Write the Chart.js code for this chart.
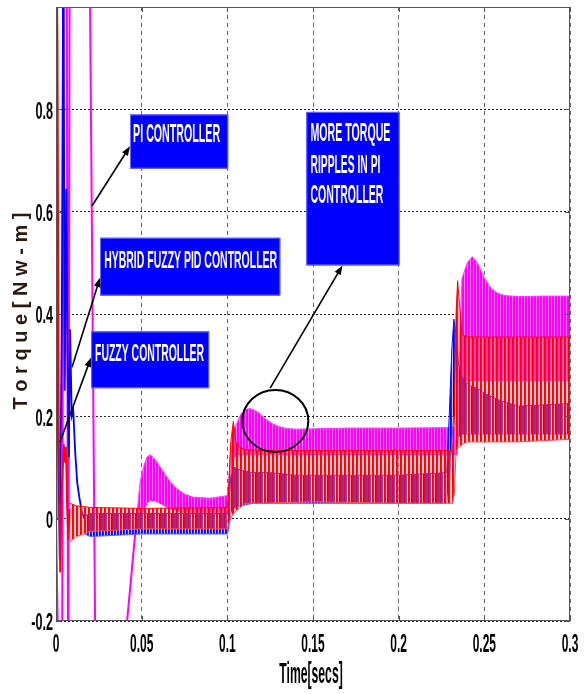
<!DOCTYPE html>
<html>
<head>
<meta charset="utf-8">
<script src="https://cdn.jsdelivr.net/npm/chart.js@4.4.0/dist/chart.umd.min.js"></script>
<style>
  html, body { margin: 0; padding: 0; background: #fff; }
  #wrap { width: 587px; height: 694px; }
</style>
</head>
<body>
<div id="wrap"><canvas id="couple"></canvas></div>
<script>
// axes
const xTicks = [0, 0.05, 0.1, 0.15, 0.2, 0.25, 0.3];
const yTicks = [-0.2, 0, 0.2, 0.4, 0.6, 0.8];

// PI controller (magenta) : demarrage puis enveloppe des ondulations
const piStartT = [0, 0.0012, 0.0034, 0.0046, 0.0062, 0.0071, 0.0081, 0.012, 0.0175, 0.0199, 0.0228, 0.027, 0.035, 0.0415, 0.0473];
const piStartV = [0, -0.25, -0.6, 1.3, 1.25, -0.45, 1.3, 1.8, 1.6, 1.0, -0.2, -0.7, -0.8, -0.2, 0.01];
const piBandT = [0.0473, 0.049, 0.051, 0.053, 0.055, 0.058, 0.062, 0.066, 0.07, 0.075, 0.08, 0.09, 0.1, 0.1008, 0.102, 0.104, 0.106, 0.108, 0.111, 0.114, 0.118, 0.122, 0.126, 0.13, 0.135, 0.14, 0.17, 0.2, 0.234, 0.2355, 0.237, 0.24, 0.243, 0.246, 0.25, 0.254, 0.258, 0.262, 0.27, 0.285, 0.3];
const piBandHaut = [0.01, 0.07, 0.10, 0.12, 0.125, 0.115, 0.095, 0.075, 0.06, 0.048, 0.042, 0.04, 0.045, 0.07, 0.14, 0.175, 0.19, 0.205, 0.214, 0.215, 0.208, 0.196, 0.186, 0.18, 0.176, 0.175, 0.177, 0.177, 0.178, 0.35, 0.47, 0.50, 0.512, 0.50, 0.47, 0.45, 0.44, 0.436, 0.434, 0.435, 0.435];
const piBandBas = [-0.01, 0.0, 0.015, 0.03, 0.036, 0.035, 0.028, 0.02, 0.016, 0.012, 0.01, 0.01, 0.01, 0.02, 0.08, 0.12, 0.125, 0.125, 0.125, 0.125, 0.125, 0.125, 0.125, 0.125, 0.125, 0.125, 0.125, 0.125, 0.125, 0.2, 0.26, 0.27, 0.27, 0.27, 0.27, 0.27, 0.27, 0.27, 0.27, 0.27, 0.27];

// Hybrid fuzzy PID (red)
const hyStartT = [0, 0.0004, 0.0009, 0.0016, 0.0024, 0.0034, 0.0046, 0.0052, 0.0058, 0.0065, 0.0072, 0.008];
const hyStartV = [0, 1.1, 0.93, 0.2, -0.105, 0.06, 0.145, 0.11, 0.14, 0.02, -0.04, 0.02];
const hyBandT = [0.008, 0.012, 0.02, 0.05, 0.1, 0.1008, 0.102, 0.1035, 0.105, 0.107, 0.11, 0.12, 0.15, 0.2, 0.2315, 0.2325, 0.2335, 0.2344, 0.2355, 0.237, 0.24, 0.25, 0.27, 0.3];
const hyBandHaut = [0.03, 0.025, 0.022, 0.02, 0.022, 0.06, 0.15, 0.19, 0.15, 0.14, 0.135, 0.133, 0.133, 0.133, 0.133, 0.2, 0.4, 0.465, 0.42, 0.36, 0.355, 0.355, 0.355, 0.355];
const hyBandBas = [-0.045, -0.035, -0.025, -0.02, -0.02, -0.01, 0.0, 0.01, 0.015, 0.02, 0.03, 0.03, 0.033, 0.03, 0.03, 0.05, 0.13, 0.14, 0.14, 0.145, 0.15, 0.15, 0.15, 0.155];

// Fuzzy controller (blue)
const fzStartT = [0, 0.0006, 0.0013, 0.0022, 0.0034, 0.0043, 0.0051, 0.006, 0.0068, 0.0075, 0.0082, 0.0092, 0.0101, 0.0112, 0.0124, 0.0137, 0.015, 0.0165];
const fzStartV = [0, 0.675, 0.15, -0.08, 0.4, 1.2, 0.25, 0.645, 0.3, 0.12, 0.37, 0.2, 0.21, 0.13, 0.07, 0.04, 0.015, 0.0];
const fzBandT = [0.0165, 0.02, 0.05, 0.1, 0.1008, 0.102, 0.104, 0.108, 0.115, 0.125, 0.14, 0.16, 0.2, 0.228, 0.2295, 0.231, 0.2322, 0.2335, 0.235, 0.238, 0.242, 0.246, 0.25, 0.26, 0.27, 0.3];
const fzBandHaut = [0.005, 0.01, 0.01, 0.01, 0.03, 0.08, 0.1, 0.095, 0.09, 0.09, 0.085, 0.085, 0.085, 0.09, 0.2, 0.33, 0.39, 0.36, 0.3, 0.27, 0.26, 0.255, 0.245, 0.23, 0.22, 0.225];
const fzBandBas = [-0.03, -0.035, -0.03, -0.03, -0.02, 0.01, 0.02, 0.025, 0.03, 0.03, 0.03, 0.03, 0.03, 0.03, 0.06, 0.15, 0.2, 0.18, 0.16, 0.165, 0.165, 0.165, 0.165, 0.165, 0.165, 0.165];

// annotations (data units)
const boites = [
    { t0: 0.0432, t1: 0.1005, v0: 0.79, v1: 0.684, lignes: ['PI CONTROLLER'], tx: 0.045, ty: [0.752], w: [87], size: 26 },
    { t0: 0.0257, t1: 0.1309, v0: 0.549, v1: 0.436, lignes: ['HYBRID FUZZY PID CONTROLLER'], tx: 0.0281, ty: [0.504], w: [173], size: 23 },
    { t0: 0.0205, t1: 0.0894, v0: 0.366, v1: 0.255, lignes: ['FUZZY CONTROLLER'], tx: 0.0228, ty: [0.323], w: [109], size: 23 },
    { t0: 0.1461, t1: 0.2005, v0: 0.795, v1: 0.495, lignes: ['MORE TORQUE', 'RIPPLES IN PI', 'CONTROLLER'], tx: 0.1485, ty: [0.754, 0.691, 0.633], w: [80, 70, 73], size: 25 }
];
const fleches = [
    [0.021, 0.611, 0.0432, 0.728],
    [0.00935, 0.296, 0.0257, 0.471],
    [0.00234, 0.15, 0.0205, 0.315],
    [0.125, 0.255, 0.1672, 0.495]
];
const ellipse = { t: 0.128, v: 0.191, rx: 33, ry: 31 };

function pts(t, v) { return t.map((x, i) => ({ x: x, y: v[i] })); }

function rayures(couleurs) {
    const c = document.createElement('canvas');
    c.width = couleurs.length; c.height = 4;
    const g = c.getContext('2d');
    couleurs.forEach((col, i) => { g.fillStyle = col; g.fillRect(i, 0, 1, 4); });
    return g.createPattern(c, 'repeat');
}

function texteSerre(ctx, txt, x, y, font, sx, align) {
    ctx.save();
    ctx.font = font;
    ctx.translate(x, y);
    ctx.scale(sx, 1);
    ctx.textAlign = align;
    ctx.textBaseline = 'middle';
    ctx.fillText(txt, 0, 0);
    ctx.restore();
}

const police = "'Liberation Sans', Arial, sans-serif";

const decor = {
    id: 'decor',
    afterDraw(chart) {
        const ctx = chart.ctx;
        const a = chart.chartArea;
        const xs = chart.scales.x, ys = chart.scales.y;

        // cadre + ticks
        ctx.save();
        ctx.strokeStyle = '#555';
        ctx.lineWidth = 1;
        ctx.strokeRect(a.left + 0.5, a.top + 0.5, a.right - a.left - 1, a.bottom - a.top - 1);
        ctx.beginPath();
        xTicks.forEach(t => {
            const px = Math.round(xs.getPixelForValue(t)) + 0.5;
            ctx.moveTo(px, a.bottom); ctx.lineTo(px, a.bottom - 5);
            ctx.moveTo(px, a.top); ctx.lineTo(px, a.top + 5);
        });
        yTicks.forEach(v => {
            const py = Math.round(ys.getPixelForValue(v)) + 0.5;
            ctx.moveTo(a.left, py); ctx.lineTo(a.left + 5, py);
            ctx.moveTo(a.right, py); ctx.lineTo(a.right - 5, py);
        });
        ctx.stroke();
        ctx.restore();

        // labels des ticks
        ctx.fillStyle = '#000';
        yTicks.forEach(v => {
            texteSerre(ctx, String(v), a.left - 3, ys.getPixelForValue(v) + 3, 'bold 23px ' + police, 0.55, 'right');
        });
        xTicks.forEach(t => {
            texteSerre(ctx, String(t), xs.getPixelForValue(t), 645, 'bold 26px ' + police, 0.46, 'center');
        });
        texteSerre(ctx, 'Time[secs]', 311, 675, 'bold 29px ' + police, 0.42, 'center');

        // titre Y espacé
        ctx.save();
        ctx.translate(21, 311);
        ctx.rotate(-Math.PI / 2);
        ctx.font = 'bold 20px ' + police;
        ctx.fillStyle = '#2b1a10';
        ctx.textBaseline = 'middle';
        const titre = 'Torque[Nw-m]';
        const larg = [...titre].map(ch => ctx.measureText(ch).width);
        const tot = larg.reduce((s, w) => s + w, 0);
        const gap = (197 - tot) / (titre.length - 1);
        let pos = -197 / 2;
        [...titre].forEach((ch, i) => { ctx.fillText(ch, pos, 0); pos += larg[i] + gap; });
        ctx.restore();

        // boites bleues
        boites.forEach(b => {
            const x0 = xs.getPixelForValue(b.t0), x1 = xs.getPixelForValue(b.t1);
            const y0 = ys.getPixelForValue(b.v0), y1 = ys.getPixelForValue(b.v1);
            ctx.fillStyle = '#0000ff';
            ctx.fillRect(x0, y0, x1 - x0, y1 - y0);
            ctx.strokeStyle = '#6a6aff';
            ctx.lineWidth = 1;
            ctx.strokeRect(x0 + 0.5, y0 + 0.5, x1 - x0 - 1, y1 - y0 - 1);
            ctx.fillStyle = '#fff';
            b.lignes.forEach((l, i) => {
                ctx.font = 'bold ' + b.size + 'px ' + police;
                const sx = b.w[i] / ctx.measureText(l).width;
                texteSerre(ctx, l, xs.getPixelForValue(b.tx), ys.getPixelForValue(b.ty[i]) + 1, 'bold ' + b.size + 'px ' + police, sx, 'left');
            });
        });

        // fleches
        ctx.save();
        ctx.strokeStyle = '#000';
        ctx.fillStyle = '#000';
        ctx.lineWidth = 1.6;
        fleches.forEach(f => {
            const x0 = xs.getPixelForValue(f[0]), y0 = ys.getPixelForValue(f[1]);
            const x1 = xs.getPixelForValue(f[2]), y1 = ys.getPixelForValue(f[3]);
            const ang = Math.atan2(y1 - y0, x1 - x0);
            ctx.beginPath();
            ctx.moveTo(x0, y0);
            ctx.lineTo(x1 - 6 * Math.cos(ang), y1 - 6 * Math.sin(ang));
            ctx.stroke();
            ctx.beginPath();
            ctx.moveTo(x1, y1);
            ctx.lineTo(x1 - 10 * Math.cos(ang - 0.35), y1 - 10 * Math.sin(ang - 0.35));
            ctx.lineTo(x1 - 10 * Math.cos(ang + 0.35), y1 - 10 * Math.sin(ang + 0.35));
            ctx.closePath();
            ctx.fill();
        });
        ctx.lineWidth = 2;
        ctx.beginPath();
        ctx.ellipse(xs.getPixelForValue(ellipse.t), ys.getPixelForValue(ellipse.v), ellipse.rx, ellipse.ry, 0, 0, 2 * Math.PI);
        ctx.stroke();
        ctx.restore();
    }
};

document.addEventListener("DOMContentLoaded", function () {
    const canvas = document.getElementById("couple");
    const ctx = canvas.getContext('2d');

    const motifPi = rayures(['#ff00ff', '#ff00ff', '#ff7dff']);
    const motifHy = rayures(['#ff0000', '#ff1010', 'rgba(255,110,140,0.45)', 'rgba(255,160,170,0.25)']);
    const motifFz = rayures(['#0000ff', '#2020ff', 'rgba(140,140,255,0.5)']);

    const ligne = (data, col, w, ordre, fill, bg) => ({
        data: data,
        borderColor: col,
        borderWidth: w,
        backgroundColor: bg || col,
        fill: fill || false,
        tension: 0,
        pointRadius: 0,
        order: ordre
    });

    new Chart(ctx, {
        type: 'line',
        data: {
            datasets: [
                ligne(pts(hyBandT, hyBandHaut), '#ff0000', 1, 1),
                ligne(pts(hyBandT, hyBandBas), '#ff5050', 1, 1, '-1', motifHy),
                ligne(pts(hyStartT, hyStartV), '#ff0000', 1.8, 1),
                ligne(pts(fzBandT, fzBandHaut), '#1010ff', 1, 2),
                ligne(pts(fzBandT, fzBandBas), '#6060ff', 1, 2, '-1', motifFz),
                ligne(pts(fzStartT, fzStartV), '#0000ff', 1.8, 2),
                ligne(pts(piBandT, piBandHaut), '#ff40ff', 1, 3),
                ligne(pts(piBandT, piBandBas), '#ff00ff', 1, 3, '-1', motifPi),
                ligne(pts(piStartT, piStartV), '#ff00ff', 2, 3)
            ]
        },
        options: {
            responsive: true,
            maintainAspectRatio: false,
            animation: false,
            layout: { padding: { left: 0, right: 17, top: 7, bottom: 0 } },
            plugins: {
                legend: { display: false },
                tooltip: { enabled: false }
            },
            scales: {
                x: {
                    type: 'linear',
                    min: 0,
                    max: 0.3,
                    ticks: { display: false, stepSize: 0.05 },
                    grid: { color: '#666', drawTicks: false },
                    border: { display: false, dash: [4, 4] },
                    afterFit: function (s) { s.height = 73; }
                },
                y: {
                    min: -0.2,
                    max: 1.0,
                    ticks: { display: false, stepSize: 0.2 },
                    grid: { color: '#222', drawTicks: false },
                    border: { display: false, dash: [2, 2] },
                    afterFit: function (s) { s.width = 56; }
                }
            }
        },
        plugins: [decor]
    });
});
</script>
</body>
</html>
